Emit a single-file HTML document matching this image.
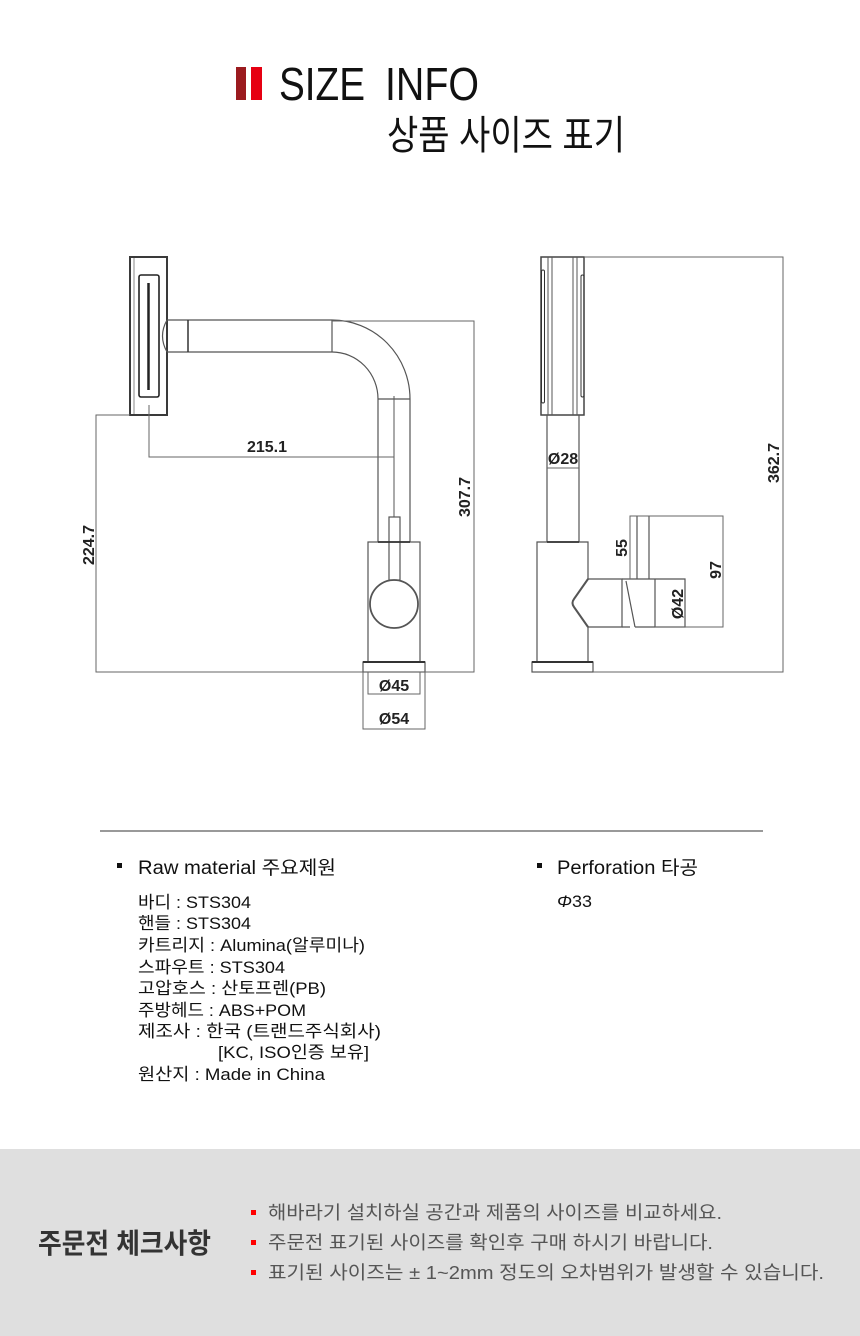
<!DOCTYPE html>
<html><head><meta charset="utf-8">
<style>
html,body{margin:0;padding:0;background:#fff;}
svg{display:block;}
</style></head>
<body>
<svg width="860" height="1336" viewBox="0 0 860 1336" xmlns="http://www.w3.org/2000/svg">
<rect width="860" height="1336" fill="#fff"/>

<!-- Header -->
<rect x="236" y="67" width="10" height="33" fill="#9b1b1f"/>
<rect x="251" y="67" width="11" height="33" fill="#e60012"/>
<text x="279" y="100" font-family="Liberation Sans, sans-serif" font-size="46" textLength="86" lengthAdjust="spacingAndGlyphs" fill="#111">SIZE</text>
<text x="385" y="100" font-family="Liberation Sans, sans-serif" font-size="46" textLength="94" lengthAdjust="spacingAndGlyphs" fill="#111">INFO</text>
<text x="387" y="149" font-family="Liberation Sans, 'Noto Sans CJK KR', sans-serif" font-size="40" textLength="238" lengthAdjust="spacingAndGlyphs" fill="#111">상품 사이즈 표기</text>

<!-- LEFT DRAWING -->
<g fill="none" stroke="#555" stroke-width="1.2">
  <rect x="130" y="257" width="37" height="158" stroke="#3a3a3a" stroke-width="2"/>
  <line x1="134" y1="258" x2="134" y2="414" stroke="#888" stroke-width="1"/>
  <rect x="139" y="275" width="20" height="122" rx="2" stroke="#222" stroke-width="1.6"/>
  <line x1="148.5" y1="283" x2="148.5" y2="390" stroke="#222" stroke-width="2.5"/>
  <path d="M167,320 H332 M167,352 H332 M167,320 Q158,336 167,352"/>
  <line x1="188" y1="320" x2="188" y2="352" stroke="#333" stroke-width="1.5"/>
  <line x1="332" y1="320" x2="332" y2="352"/>
  <path d="M332,320 A78,79 0 0 1 410,399"/>
  <path d="M332,352 A46,47 0 0 1 378,399"/>
  <path d="M378,399 H410 M378,399 V542 M410,399 V542"/>
  <path d="M394,396 V517" stroke-width="1"/>
  <rect x="389" y="517" width="11" height="63"/>
  <rect x="368" y="542" width="52" height="120"/>
  <line x1="378" y1="542" x2="410" y2="542" stroke="#333" stroke-width="1.8"/>
  <circle cx="394" cy="604" r="24" stroke-width="1.8"/>
  <rect x="363" y="662" width="62" height="10"/>
  <line x1="363" y1="662" x2="425" y2="662" stroke="#333" stroke-width="2"/>
</g>
<g fill="none" stroke="#666" stroke-width="1">
  <path d="M130,415 H96 V672 H474 V321 H332"/>
  <path d="M149,405 V457 H394"/>
  <path d="M368,672 V694 H420 V672"/>
  <path d="M363,672 V729 H425 V672"/>
</g>
<g font-family="Liberation Sans, sans-serif" font-weight="bold" font-size="16" fill="#222" text-anchor="middle">
  <text x="267" y="452">215.1</text>
  <text transform="translate(94,545) rotate(-90)">224.7</text>
  <text transform="translate(470,497) rotate(-90)">307.7</text>
  <text x="394" y="691">Ø45</text>
  <text x="394" y="724">Ø54</text>
</g>

<!-- RIGHT DRAWING -->
<g fill="none" stroke="#555" stroke-width="1.2">
  <rect x="541" y="257" width="43" height="158" stroke="#444" stroke-width="1.5"/>
  <path d="M548,257 V415 M552,257 V415 M573,257 V415 M577,257 V415" stroke-width="1"/>
  <rect x="541.5" y="270" width="3" height="133" rx="1.5" stroke="#333" stroke-width="1"/>
  <rect x="581" y="275" width="3" height="122" rx="1.5" stroke="#333" stroke-width="1"/>
  <path d="M547,415 V542 M579,415 V542"/>
  <path d="M588,579 V542 H537 V662 H588 V627"/>
  <line x1="547" y1="542" x2="579" y2="542" stroke="#333" stroke-width="1.8"/>
  <rect x="532" y="662" width="61" height="10"/>
  <line x1="532" y1="662" x2="593" y2="662" stroke="#333" stroke-width="2"/>
  <path d="M588,579 L574,599 Q571,603 574,607 L588,627" stroke-width="2"/>
  <path d="M588,579 H622 V627 H588"/>
  <path d="M622,579 H685 V627 H635 M655,579 V627 M626,581 L635,627 M622,627 H630"/>
  <path d="M637,516 V579 M649,516 V579"/>
</g>
<g fill="none" stroke="#666" stroke-width="1">
  <path d="M584,257 H783 V672 H593"/>
  <path d="M547,468 H579"/>
  <path d="M630,579 V516 H723 V627 H655"/>
</g>
<g font-family="Liberation Sans, sans-serif" font-weight="bold" font-size="16" fill="#222" text-anchor="middle">
  <text x="563" y="464">Ø28</text>
  <text transform="translate(779,463) rotate(-90)">362.7</text>
  <text transform="translate(627,548) rotate(-90)">55</text>
  <text transform="translate(721,570) rotate(-90)">97</text>
  <text transform="translate(683,604) rotate(-90)">Ø42</text>
</g>

<!-- divider -->
<line x1="100" y1="831" x2="763" y2="831" stroke="#333" stroke-width="1"/>

<!-- Materials -->
<g font-family="Liberation Sans, 'Noto Sans CJK KR', sans-serif" fill="#111">
  <rect x="117" y="863" width="5" height="5" fill="#111"/>
  <text x="138" y="874" font-size="19" textLength="198" lengthAdjust="spacingAndGlyphs">Raw material 주요제원</text>
  <rect x="537" y="863" width="5" height="5" fill="#111"/>
  <text x="557" y="874" font-size="19" textLength="141" lengthAdjust="spacingAndGlyphs">Perforation 타공</text>
  <text x="557" y="907" font-size="17" textLength="35" lengthAdjust="spacingAndGlyphs"><tspan font-style="italic">Φ</tspan>33</text>

  <g font-size="17">
    <text x="138" y="908" textLength="113" lengthAdjust="spacingAndGlyphs">바디 : STS304</text>
    <text x="138" y="929" textLength="113" lengthAdjust="spacingAndGlyphs">핸들 : STS304</text>
    <text x="138" y="951" textLength="227" lengthAdjust="spacingAndGlyphs">카트리지 : Alumina(알루미나)</text>
    <text x="138" y="973" textLength="147" lengthAdjust="spacingAndGlyphs">스파우트 : STS304</text>
    <text x="138" y="994" textLength="188" lengthAdjust="spacingAndGlyphs">고압호스 : 산토프렌(PB)</text>
    <text x="138" y="1016" textLength="168" lengthAdjust="spacingAndGlyphs">주방헤드 : ABS+POM</text>
    <text x="138" y="1037" textLength="243" lengthAdjust="spacingAndGlyphs">제조사 : 한국 (트랜드주식회사)</text>
    <text x="218" y="1058" textLength="151" lengthAdjust="spacingAndGlyphs">[KC, ISO인증 보유]</text>
    <text x="138" y="1080" textLength="187" lengthAdjust="spacingAndGlyphs">원산지 : Made in China</text>
  </g>
</g>

<!-- Bottom box -->
<rect x="0" y="1149" width="860" height="187" fill="#dfdfdf"/>
<text x="38" y="1253" font-family="Liberation Sans, 'Noto Sans CJK KR', sans-serif" font-weight="bold" font-size="28" fill="#333" textLength="173" lengthAdjust="spacingAndGlyphs">주문전 체크사항</text>
<rect x="251" y="1210" width="5" height="5" fill="#f00"/>
<rect x="251" y="1240" width="5" height="5" fill="#f00"/>
<rect x="251" y="1270" width="5" height="5" fill="#f00"/>
<g font-family="Liberation Sans, 'Noto Sans CJK KR', sans-serif" font-size="18.5" fill="#555">
  <text x="268" y="1219" textLength="454" lengthAdjust="spacingAndGlyphs">해바라기 설치하실 공간과 제품의 사이즈를 비교하세요.</text>
  <text x="268" y="1249" textLength="445" lengthAdjust="spacingAndGlyphs">주문전 표기된 사이즈를 확인후 구매 하시기 바랍니다.</text>
  <text x="268" y="1279" textLength="556" lengthAdjust="spacingAndGlyphs">표기된 사이즈는 ± 1~2mm 정도의 오차범위가 발생할 수 있습니다.</text>
</g>
</svg>
</body></html>
